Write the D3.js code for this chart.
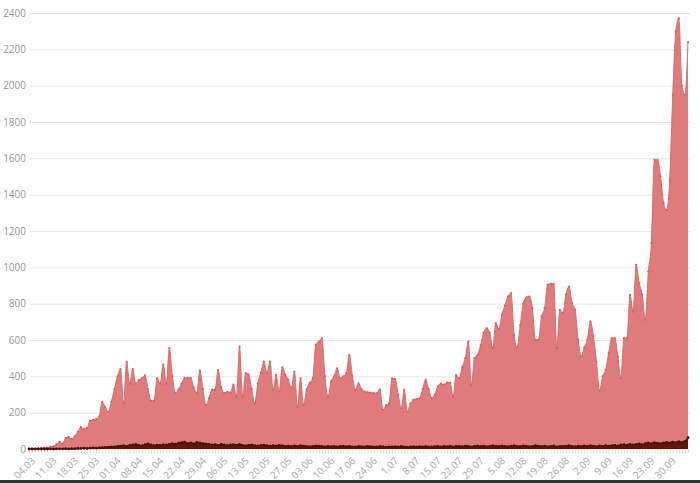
<!DOCTYPE html>
<html><head><meta charset="utf-8">
<script src="https://cdn.jsdelivr.net/npm/d3@7"></script>
<style>body{margin:0;background:#fff;overflow:hidden}svg{display:block}</style>
</head><body><svg id="c" width="700" height="483"></svg>
<script>
const startDate = new Date(2020, 2, 4);
const cases = [
1,2,2,4,5,6,8,12,15,25,
40,30,60,65,55,70,95,120,110,115,
155,160,165,180,260,230,205,260,330,
400,440,250,480,360,440,360,380,390,405,330,
265,265,390,360,465,360,556,400,308,327,
360,391,391,391,340,308,432,330,242,280,
327,327,435,340,308,315,310,354,288,564,
288,418,410,330,251,362,420,481,418,481,
325,408,316,450,410,380,335,426,230,389,
240,330,363,389,573,591,610,400,288,371,
400,444,389,400,417,518,400,325,362,330,
316,312,310,308,307,329,215,240,251,389,
385,300,224,325,205,250,270,275,279,330,
380,330,279,300,344,360,355,366,366,288,
407,389,450,500,591,350,500,517,570,640,
665,640,555,693,660,739,790,839,858,629,
560,680,800,835,839,775,601,601,730,775,
905,909,909,555,766,748,850,894,803,766,
600,509,560,601,702,620,480,320,400,435,
528,610,610,508,389,610,610,848,756,1014,
913,850,711,977,1134,1592,1592,1500,1354,1316,
1480,1950,2300,2370,2000,1950,2240
];
const deaths = [
0,0,0,0,0,0,0,1,0,1,1,1,2,1,2,
2,3,3,4,3,5,6,5,7,8,9,10,12,11,
14,16,18,15,20,22,25,20,18,24,28,22,19,21,
20,24,22,25,30,27,32,35,38,30,34,28,36,33,
30,28,26,22,24,20,25,23,19,22,24,21,25,20,
18,20,22,19,17,20,21,18,16,19,17,20,18,15,
16,14,17,15,18,16,14,13,15,17,16,14,12,15,
13,15,12,14,16,13,15,12,11,14,13,12,15,13,
12,11,14,13,10,12,11,13,12,14,11,10,12,13,
11,13,12,14,12,11,13,15,12,14,13,16,12,14,
15,13,16,14,12,15,17,14,16,13,15,18,16,14,
17,15,13,16,18,15,14,17,16,13,15,18,16,14,
16,13,15,17,12,15,14,16,18,15,13,16,14,17,
15,18,16,13,17,15,19,16,18,20,17,22,24,21,
26,23,25,28,24,30,33,29,35,32,30,34,36,33,
38,35,40,37,42,62
];
const tickLabels = ["04.03","11.03","18.03","25.03","01.04","08.04","15.04","22.04","29.04","06.05","13.05","20.05","27.05","03.06","10.06","17.06","24.06","1.07","8.07","15.07","22.07","29.07","5.08","12.08","19.08","26.08","2.09","9.09","16.09","23.09","30.09"];
const yTicks = [0,200,400,600,800,1000,1200,1400,1600,1800,2000,2200,2400];

const n = cases.length;
const dates = d3.range(n).map(i => d3.timeDay.offset(startDate, i));
const svg = d3.select("#c");
const mLeft = 30, mRight = 690, mTop = 13, mBottom = 449;

const x = d3.scalePoint().domain(d3.range(n)).range([29, 688]);
const y = d3.scaleLinear().domain([0, 2400]).range([mBottom, mTop]);

// grid + y labels
const gy = svg.append("g").attr("transform", `translate(${mLeft},0)`)
  .call(d3.axisLeft(y).tickValues(yTicks).tickFormat(d3.format("d")).tickSize(-(mRight-mLeft)).tickPadding(4));
gy.select(".domain").remove();
gy.selectAll("line").attr("stroke", "#e6e6e6");
gy.selectAll("text").attr("fill", "#999").style("font", "10px 'Open Sans', sans-serif");

// daily tick marks
const gt = svg.append("g").attr("transform", `translate(0,${mBottom})`)
  .call(d3.axisBottom(x).tickValues(d3.range(n)).tickSize(4).tickFormat(""));
gt.select(".domain").remove();
gt.selectAll("line").attr("stroke", "#e8dede");

// cases area
const area = d3.area().x((d,i) => x(i)).y0(y(0)).y1(d => y(d)).curve(d3.curveMonotoneX);
const line = d3.line().x((d,i) => x(i)).y(d => y(d)).curve(d3.curveMonotoneX);
svg.append("path").datum(cases).attr("d", area).attr("fill", "#e07b7b");
svg.append("path").datum(cases).attr("d", line).attr("fill", "none").attr("stroke", "#d96e6e").attr("stroke-width", 1);
svg.append("g").selectAll("circle").data(cases).join("circle")
  .attr("cx", (d,i) => x(i)).attr("cy", d => y(d)).attr("r", 1.1).attr("fill", "#cf6464");

// deaths area
svg.append("path").datum(deaths).attr("d", area).attr("fill", "#5e180c");
svg.append("path").datum(deaths).attr("d", line).attr("fill", "none").attr("stroke", "#4d1208").attr("stroke-width", 1.5);
svg.append("g").selectAll("circle").data(deaths).join("circle")
  .attr("cx", (d,i) => x(i)).attr("cy", d => y(d)).attr("r", 1.4).attr("fill", "#4d1208");

// x labels
const gx = svg.append("g").attr("transform", `translate(0,${mBottom})`)
  .call(d3.axisBottom(x).tickValues(tickLabels.map((t,k) => k*7)).tickSize(0).tickFormat(i => tickLabels[i/7]));
gx.select(".domain").remove();
gx.selectAll("text").attr("fill", "#aaa").style("font", "10px 'Open Sans', sans-serif")
  .attr("text-anchor", "end").attr("x", 0).attr("y", 0).attr("dy", "0.35em")
  .attr("transform", "translate(4,10) rotate(-45)");

// bottom dark strip
svg.append("rect").attr("x", 0).attr("y", 480).attr("width", 700).attr("height", 3).attr("fill", "#333");
</script></body></html>
